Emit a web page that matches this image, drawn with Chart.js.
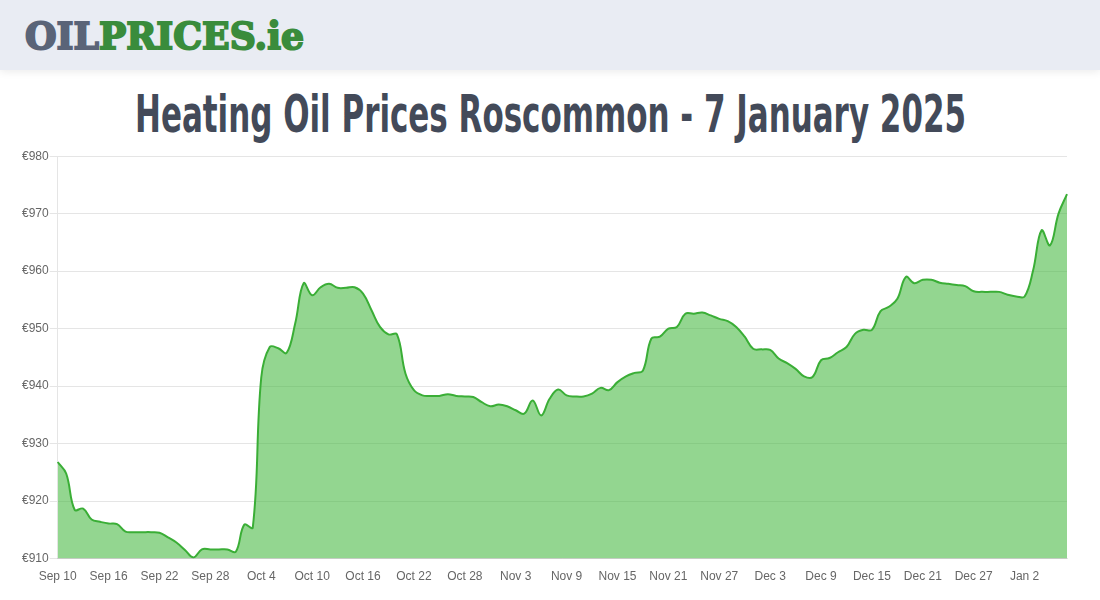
<!DOCTYPE html>
<html>
<head>
<meta charset="utf-8">
<script src="https://cdn.jsdelivr.net/npm/chart.js@4"></script>
<style>
  html, body { margin: 0; padding: 0; background: #fff; width: 1100px; height: 600px; overflow: hidden; }
  #header { position: absolute; left: 0; top: 0; width: 1100px; height: 70px; background: #e9ecf3; box-shadow: 0 2px 8px rgba(0,0,0,0.08); }
  #logo { position: absolute; left: 25px; top: 14px; font-family: "DejaVu Serif", serif; font-weight: bold; font-size: 38px; line-height: 44px; white-space: nowrap; transform-origin: 0 0; letter-spacing: 0px; }
  #logo .a { color: #5a6478; -webkit-text-stroke: 2px #5a6478; }
  #logo .b { color: #3a8c3c; -webkit-text-stroke: 2px #3a8c3c; }
  #title { position: absolute; left: 0; top: 84px; white-space: nowrap; font-family: "Liberation Sans Narrow", "DejaVu Sans Condensed", sans-serif; font-weight: bold; font-size: 52px; line-height: 60px; color: #434a59; transform-origin: 0 0; }
  #wrap { position: absolute; left: 21px; top: 148px; width: 1049px; height: 439px; }
</style>
</head>
<body>
<div id="header"><div id="logo"><span class="a">OIL</span><span class="b">PRICES.ie</span></div></div>
<div id="title">Heating Oil Prices Roscommon - 7 January 2025</div>
<div id="wrap"><canvas id="c"></canvas></div>
<script>
const monthNames = ["Sep", "Oct", "Nov", "Dec", "Jan"];
const monthStarts = [10, 1, 1, 1, 1];
const monthEnds = [30, 31, 30, 31, 7];
const categories = [];
for (let m = 0; m < monthNames.length; m++) {
  for (let d = monthStarts[m]; d <= monthEnds[m]; d++) categories.push(monthNames[m] + " " + d);
}
const prices = [
  926.8, 924.8, 918.5, 918.7, 916.8, 916.4, 916.1, 916.0, 914.7, 914.6,
  914.6, 914.6, 914.5, 913.7, 912.8, 911.5, 910.2, 911.6, 911.6, 911.6,
  911.6, 911.2, 915.9, 915.4, 941.5, 946.8, 946.6, 945.8, 950.9, 957.9,
  955.8, 957.2, 957.8, 957.1, 957.1, 957.2, 956.1, 953.2, 950.3, 949.0,
  949.0, 942.2, 939.3, 938.4, 938.3, 938.3, 938.6, 938.3, 938.2, 938.1,
  937.2, 936.5, 936.8, 936.5, 935.8, 935.2, 937.5, 934.9, 937.8, 939.4,
  938.4, 938.2, 938.2, 938.7, 939.7, 939.3, 940.7, 941.7, 942.3, 942.7,
  948.3, 948.6, 950.0, 950.3, 952.6, 952.6, 952.8, 952.3, 951.7, 951.3,
  950.3, 948.6, 946.5, 946.4, 946.3, 944.8, 944.0, 943.0, 941.7, 941.6,
  944.5, 944.9, 945.9, 946.8, 949.1, 949.8, 949.8, 953.0, 953.8, 955.2,
  959.0, 957.9, 958.5, 958.5, 958.0, 957.8, 957.6, 957.4, 956.5, 956.4,
  956.4, 956.4, 955.9, 955.6, 955.6, 960.1, 967.1, 964.5, 970.0, 973.4
];
const yMin = 910, yMax = 980, yStep = 10;
const labelEvery = 6;

function fitWidth(el, target, centerX) {
  const w = el.getBoundingClientRect().width;
  const s = target / w;
  el.style.transform = "scaleX(" + s + ")";
  if (centerX !== undefined) el.style.left = (centerX - target / 2) + "px";
}
fitWidth(document.getElementById("logo"), 279);
fitWidth(document.getElementById("title"), 831, 550);

new Chart(document.getElementById("c"), {
  type: "line",
  data: {
    labels: categories,
    datasets: [{
      data: prices,
      borderColor: "#3aae36",
      borderWidth: 2,
      backgroundColor: "rgba(58,180,53,0.55)",
      fill: true,
      tension: 0.4,
      pointRadius: 0,
      pointHoverRadius: 0
    }]
  },
  options: {
    responsive: true,
    maintainAspectRatio: false,
    animation: false,
    layout: { padding: { left: 0, right: 0, top: 4, bottom: 0 } },
    plugins: { legend: { display: false }, tooltip: { enabled: false } },
    scales: {
      x: {
        grid: { display: false },
        border: { display: true, color: "rgba(0,0,0,0.1)" },
        ticks: {
          autoSkip: false, maxRotation: 0, color: "#666", font: { size: 12 },
          callback: function(v, i) { return i % labelEvery === 0 ? categories[i] : ""; }
        }
      },
      y: {
        min: yMin, max: yMax,
        grid: { color: "rgba(0,0,0,0.1)" },
        border: { display: true, color: "rgba(0,0,0,0.1)" },
        ticks: { stepSize: yStep, padding: 1, color: "#666", font: { size: 12 }, callback: v => "€" + v }
      }
    }
  }
});
</script>
</body>
</html>
